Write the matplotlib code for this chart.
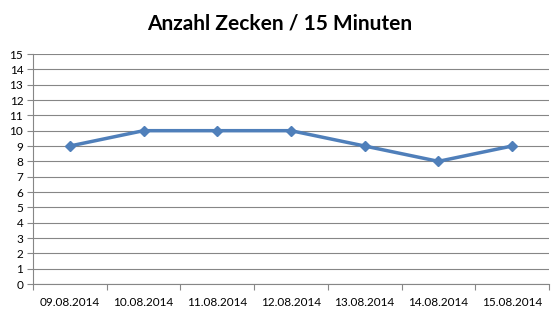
import numpy as np
import matplotlib.pyplot as plt

dates = ["09.08.2014", "10.08.2014", "11.08.2014", "12.08.2014",
         "13.08.2014", "14.08.2014", "15.08.2014"]
counts = [9, 10, 10, 10, 9, 8, 9]

plt.rcParams["font.family"] = ["Lato", "DejaVu Sans"]

fig = plt.figure(figsize=(5.59, 3.14), dpi=100)
ax = fig.add_axes([0.059, 0.0955, 0.923, 0.7325])

x = np.arange(len(dates))
ax.plot(x, counts, color="#4F7FBA", linewidth=2.5, marker="D", markersize=5.5,
        markerfacecolor="#4F7FBA", markeredgecolor="#4F7FBA", zorder=3)

ax.set_xlim(-0.5, len(dates) - 0.5)
ax.set_ylim(0, 15)
ax.set_yticks(range(0, 16))
ax.set_xticks(x)
ax.set_xticklabels(dates, fontsize=8.5)
ax.set_xticks(np.arange(-0.5, len(dates), 1.0), minor=True)
ax.tick_params(axis="x", which="major", length=0, pad=9)
ax.tick_params(axis="x", which="minor", length=4, color="#888888", width=0.8)
ax.tick_params(axis="y", length=4, color="#888888", width=0.8, labelsize=8.5, pad=3)

ax.grid(axis="y", color="#868686", linewidth=0.8)
ax.set_axisbelow(True)
for side in ["top", "right"]:
    ax.spines[side].set_visible(False)
for side in ["left", "bottom"]:
    ax.spines[side].set_color("#868686")
    ax.spines[side].set_linewidth(0.8)

fig.text(0.5, 0.925, "Anzahl Zecken / 15 Minuten", ha="center", va="center",
         fontsize=15, fontweight="bold")

fig.savefig("out.png", dpi=100)
